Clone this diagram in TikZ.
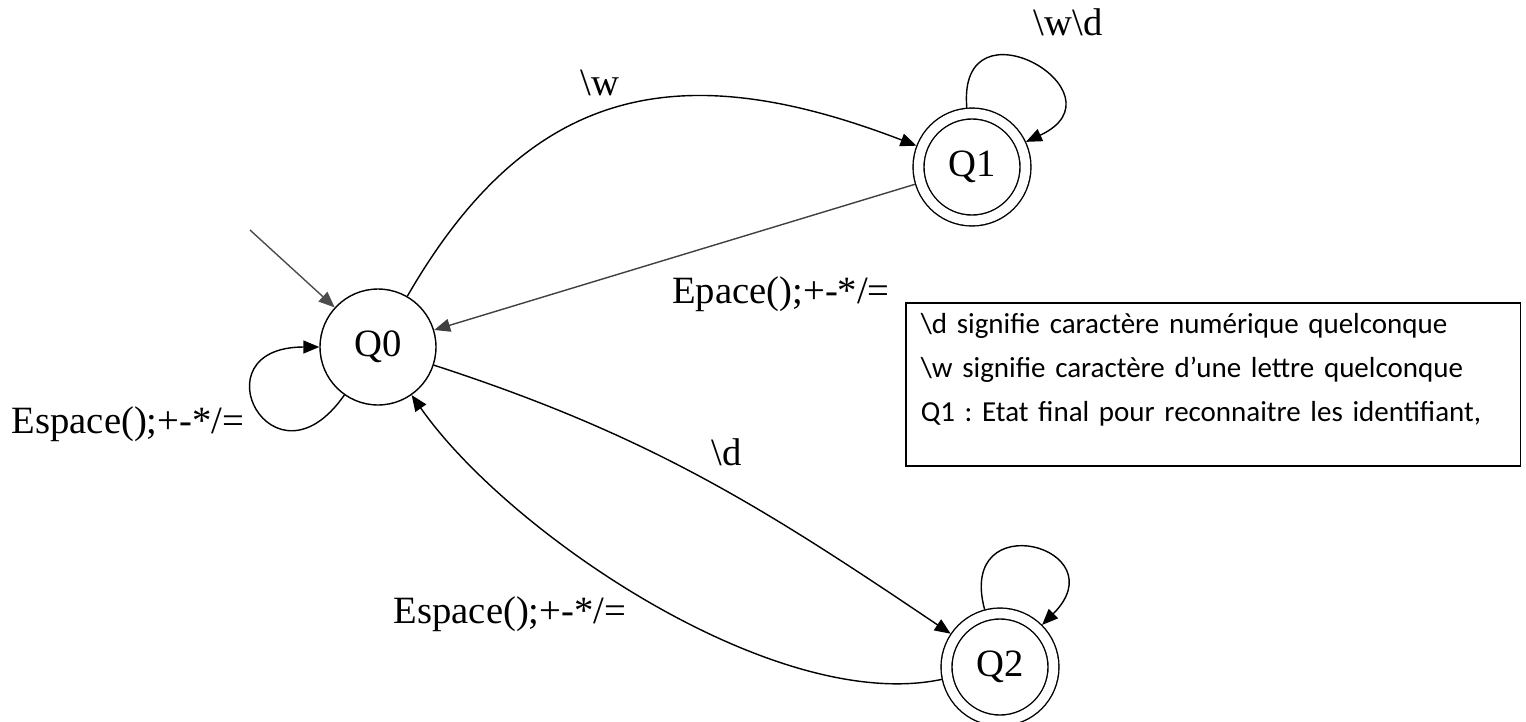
\documentclass[tikz,border=0pt]{standalone}
\usepackage{fontspec}
\setmainfont{Liberation Serif}
\newfontfamily\notefont{Carlito}
\usetikzlibrary{arrows.meta}

\begin{document}
\begin{tikzpicture}[x=0.02cm,y=-0.02cm,line width=0.8pt,
  font=\fontsize{22}{26}\selectfont,
  >={Triangle[length=0.32cm,width=0.26cm]},
  state/.style={circle,draw,minimum size=2.32cm,inner sep=0pt},
  final/.style={circle,draw,double,double distance=0.19cm,minimum size=2.14cm,inner sep=0pt,outer sep=0.12cm},
  lbl/.style={inner sep=0pt},
  notebox/.style={draw,line width=0.9pt,anchor=north west,align=left,
    font=\notefont\fontsize{16.5}{25}\selectfont\frenchspacing,
    text width=11.7cm,inner xsep=0.3cm,inner ysep=0pt,minimum height=3.26cm}]
\useasboundingbox (0,0) rectangle (1526,721);

% etats
\node[state] (q0) at (378,347) {Q0};
\node[final] (q1) at (972,167) {Q1};
\node[final] (q2) at (1000,667) {Q2};
\coordinate (init) at (250,230);

% transitions
\draw[->,black!70] (init) -- (q0);
\draw[->] (q0) to[out=235,in=180,distance=2.5cm] (q0);
\draw[->] (q0) to[out=60,in=159,looseness=1.2] (q1);
\draw[->] (q1) to[out=95,in=25,distance=2.3cm] (q1);
\draw[->,black!75] (q1) -- (q0);
\draw[->] (q0) to[out=-18,in=146] (q2);
\draw[->] (q2) to[out=105,in=45,distance=2.2cm] (q2);
\draw[->] (q2) to[out=192,in=-55,looseness=0.72] (q0);

% etiquettes
\node[lbl] (l00) at (128,424) {Espace();+-*/=};
\node[lbl] (l01) at (600,83) {\textbackslash w};
\node[lbl] (l11) at (1068,22) {\textbackslash w\textbackslash d};
\node[lbl] (l10) at (781,294) {Epace();+-*/=};
\node[lbl] (l02) at (727,452) {\textbackslash d};
\node[lbl] (l20) at (510,614) {Espace();+-*/=};

% legende
\node[notebox] (note) at (905,302) {\textbackslash d signifie caractère numérique quelconque\\
\textbackslash w signifie caractère d’une lettre quelconque\\
Q1 : Etat final pour reconnaitre les identifiant,\\[-0.2cm] \mbox{}};
\end{tikzpicture}
\end{document}
